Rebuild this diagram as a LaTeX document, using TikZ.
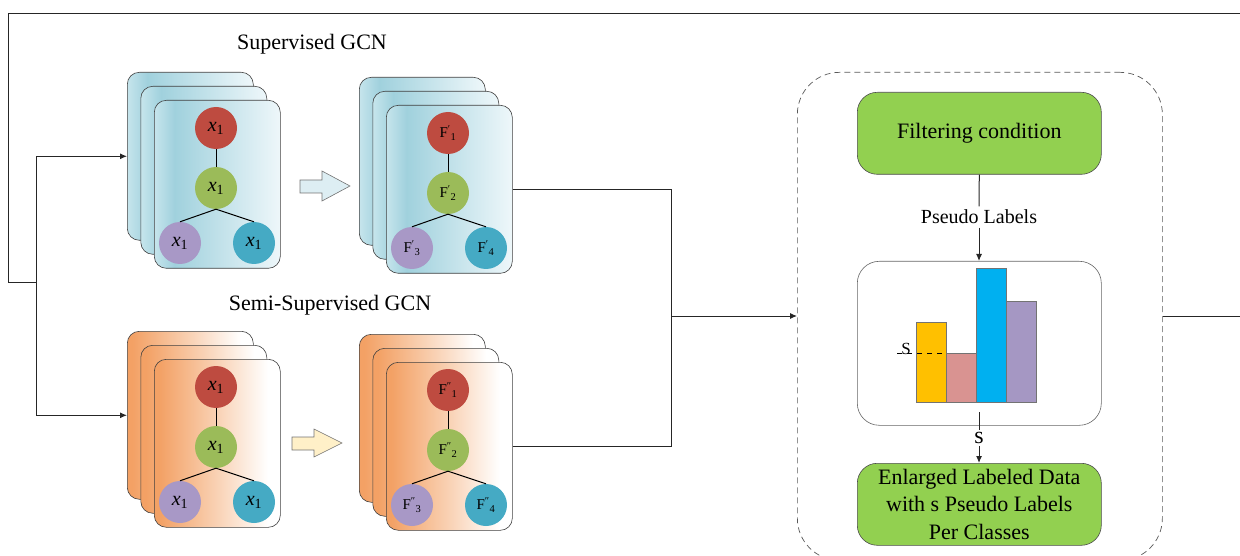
\documentclass[tikz,border=0pt]{standalone}
\usepackage{fontspec}
\setmainfont{Liberation Serif}
\usetikzlibrary{arrows.meta,calc}

\definecolor{cred}{HTML}{BE4B40}
\definecolor{cgreen}{HTML}{9BBB59}
\definecolor{cpurple}{HTML}{A898C6}
\definecolor{cteal}{HTML}{45AAC4}
\definecolor{blueedge}{HTML}{C6E5EC}
\definecolor{bluedark}{HTML}{A0D1DD}
\definecolor{bluelight}{HTML}{EEF7FA}
\definecolor{orangedark}{HTML}{F3A165}
\definecolor{orangemid}{HTML}{F9D2B5}
\definecolor{boxgreen}{HTML}{92D050}
\definecolor{baryellow}{HTML}{FFC000}
\definecolor{barpink}{HTML}{D99391}
\definecolor{barblue}{HTML}{00B0F0}
\definecolor{barpurple}{HTML}{A597C3}
\definecolor{arrblue}{HTML}{DDEEF3}
\definecolor{arrorange}{HTML}{FFF0C8}

\pgfdeclarehorizontalshading{bluecardshade}{100bp}{%
  color(0bp)=(blueedge); color(25bp)=(blueedge); color(33bp)=(bluedark);
  color(75bp)=(bluelight); color(100bp)=(bluelight)}
\pgfdeclarehorizontalshading{orangecardshade}{100bp}{%
  color(0bp)=(orangedark); color(27bp)=(orangedark); color(50bp)=(orangemid);
  color(70bp)=(white); color(100bp)=(white)}

\newcommand\flab[2]{F\textsuperscript{#1}\textsubscript{#2}}
\newcommand\xlab{\textit{x}\textsubscript{1}}

\tikzset{
  card/.style={draw=black!75, line width=0.6pt, rounded corners=12pt,
    minimum width=126pt, minimum height=168pt, anchor=north west, inner sep=0pt},
  bluecard/.style={card, shading=bluecardshade},
  orangecard/.style={card, shading=orangecardshade},
  gnode/.style={circle, minimum size=42pt, inner sep=0pt},
  xfont/.style={font=\fontsize{20}{20}\selectfont},
  ffont/.style={font=\fontsize{15}{15}\selectfont},
  edge/.style={line width=1pt, black},
  conn/.style={line width=1pt, black!85},
  arr/.style={conn, -{Latex[length=7pt,width=6pt]}},
  lbl/.style={font=\fontsize{22}{26}\selectfont},
  greenbox/.style={draw=black!70, line width=0.6pt, fill=boxgreen, rounded corners=20pt,
    minimum width=244pt, anchor=north west, align=center, font=\fontsize{22}{27.5}\selectfont},
  dashbox/.style={draw=black!65, line width=0.7pt, dash pattern=on 6pt off 4pt,
    rounded corners=42pt, anchor=north west, minimum width=365pt, minimum height=488pt},
  bar/.style={draw=black!55, line width=0.5pt},
}

% #1 prefix, #2 x, #3 y (front card top-left), #4 card style, #5-#8 labels, #9 label style
\newcommand\gcnstack[9]{%
  \node[#4] (#1a) at (#2-27,#3-28) {};
  \node[#4] (#1b) at (#2-13.5,#3-14) {};
  \node[#4] (#1c) at (#2,#3) {};
  \node[gnode, fill=cred, #9] (#1r) at (#2+62,#3+28) {#5};
  \node[gnode, fill=cgreen, #9] (#1g) at (#2+62,#3+88) {#6};
  \node[gnode, fill=cpurple, #9] (#1p) at (#2+26,#3+143) {#7};
  \node[gnode, fill=cteal, #9] (#1t) at (#2+100,#3+143) {#8};
  \draw[edge] (#1r.south) -- (#1g.south |- #1g.north);
  \draw[edge] (#1g.south) -- (#1p.north);
  \draw[edge] (#1g.south) -- (#1t.north);
}

\begin{document}
\begin{tikzpicture}[x=1pt,y=-1pt]
\useasboundingbox (0,0) rectangle (1240,556);

% titles
\node[lbl] (t1) at (312,44) {Supervised GCN};
\node[lbl] (t2) at (330,305) {Semi-Supervised GCN};

% stacks
\gcnstack{s}{154}{100}{bluecard}{\xlab}{\xlab}{\xlab}{\xlab}{xfont}
\gcnstack{u}{386}{105}{bluecard}{\flab{′}{1}}{\flab{′}{2}}{\flab{′}{3}}{\flab{′}{4}}{ffont}
\gcnstack{o}{154}{359}{orangecard}{\xlab}{\xlab}{\xlab}{\xlab}{xfont}
\gcnstack{v}{386}{362}{orangecard}{\flab{″}{1}}{\flab{″}{2}}{\flab{″}{3}}{\flab{″}{4}}{ffont}

% block arrows
\draw[draw=black!55, line width=0.6pt, fill=arrblue]
  (300,180) -- (322,180) -- (322,171) -- (350,186) -- (322,201) -- (322,193) -- (300,193) -- cycle;
\draw[draw=black!55, line width=0.6pt, fill=arrorange]
  (292,437) -- (314,437) -- (314,429) -- (342,443) -- (314,457) -- (314,450) -- (292,450) -- cycle;

% right panel
\node[dashbox] (dash) at (797,72) {};
\node[greenbox, minimum height=82pt] (filt) at (857,92) {Filtering condition};
\node[font=\fontsize{20}{24}\selectfont] (pl) at (979,217) {Pseudo Labels};
\node[draw=black!60, line width=0.6pt, rounded corners=22pt, fill=white,
  minimum width=244pt, minimum height=164pt, anchor=north west] (chart) at (857,261) {};
\draw[bar, fill=baryellow] (916,322) rectangle (946,402);
\draw[bar, fill=barpink] (946,353) rectangle (976,402);
\draw[bar, fill=barblue] (976,268) rectangle (1006,402);
\draw[bar, fill=barpurple] (1006,301) rectangle (1036,402);
\draw[line width=0.9pt, dash pattern=on 5pt off 5pt] (897,353) -- (946,353);
\node[font=\fontsize{17}{17}\selectfont, inner sep=0pt, anchor=base] (sdash) at (906,354) {S};
\node[greenbox, minimum height=82pt, inner sep=1pt] (enl) at (857,463)
  {Enlarged Labeled Data\\with s Pseudo Labels\\Per Classes};
\coordinate (sTop) at (979,412);
\node[font=\fontsize{24}{24}\selectfont, inner sep=2pt] (slab) at (979,438) {s};

\draw[conn] (filt.south) -- (pl.north);
\draw[arr] (pl.south) -- (chart.north -| pl.south);
\draw[conn] (sTop) -- (slab.north);
\draw[arr] (slab.south) -- (enl.north -| slab.south);

% frame and connectors
\coordinate (frR) at (1240,14);
\coordinate (frTL) at (8,14);
\coordinate (fork) at (36,282);
\draw[conn] (frR) -- (frTL) |- (fork);
\draw[arr] (fork) |- (sa.west);
\draw[arr] (fork) |- (oa.west);

\coordinate (join) at (671,316);
\draw[conn] (uc.east) -| (join);
\draw[conn] (vc.east) -| (join);
\draw[arr] (join) -- (join -| dash.west);

\coordinate (rEnd) at (1240,316);
\draw[conn] (rEnd -| dash.east) -- (rEnd);
\end{tikzpicture}
\end{document}
